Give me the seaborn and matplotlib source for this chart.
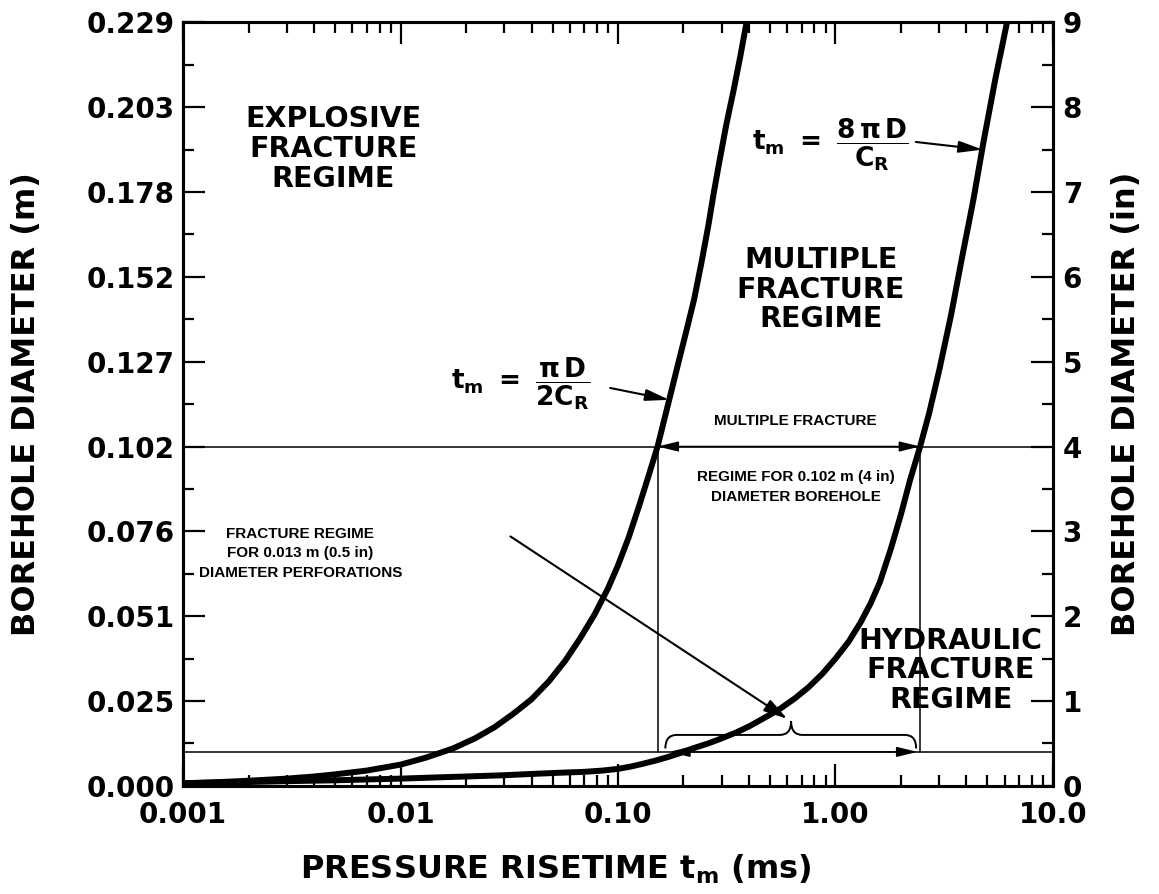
import numpy as np
import pandas as pd
import matplotlib
matplotlib.use("Agg")
import matplotlib.pyplot as plt
import seaborn as sns
from matplotlib.path import Path
from matplotlib.patches import PathPatch
from matplotlib.ticker import FixedLocator, NullFormatter, LogLocator

# ---------------- data ----------------
# curve t_m = pi D / (2 C_R)   (t in ms, D in inches)
t_curve1 = [0.001, 0.0015, 0.002, 0.003, 0.004, 0.005, 0.007, 0.01, 0.013, 0.0174,
            0.022, 0.027, 0.033, 0.04, 0.048, 0.057, 0.067, 0.078, 0.09, 0.1,
            0.112, 0.125, 0.138, 0.152, 0.17, 0.19, 0.207, 0.224, 0.242, 0.26,
            0.276, 0.292, 0.315, 0.34, 0.365, 0.39]
d_curve1 = [0.03, 0.045, 0.06, 0.085, 0.11, 0.135, 0.18, 0.25, 0.33, 0.44,
            0.56, 0.69, 0.85, 1.02, 1.23, 1.47, 1.74, 2.02, 2.33, 2.6,
            2.93, 3.3, 3.65, 4.0, 4.5, 5.0, 5.38, 5.74, 6.17, 6.6,
            7.0, 7.35, 7.8, 8.2, 8.6, 9.0]
# curve t_m = 8 pi D / C_R
t_curve2 = [0.001, 0.002, 0.003, 0.005, 0.007, 0.01, 0.015, 0.02, 0.03, 0.04,
            0.055, 0.07, 0.085, 0.1, 0.115, 0.13, 0.15, 0.17, 0.195, 0.22,
            0.26, 0.3, 0.35, 0.4, 0.47, 0.55, 0.65, 0.75, 0.87, 1.0,
            1.15, 1.3, 1.45, 1.6, 1.8, 2.0, 2.2, 2.45, 2.7, 3.0,
            3.4, 3.8, 4.3, 4.8, 5.45, 6.15]
d_curve2 = [0.03, 0.045, 0.055, 0.065, 0.075, 0.085, 0.1, 0.11, 0.125, 0.14,
            0.155, 0.165, 0.18, 0.2, 0.228, 0.26, 0.3, 0.34, 0.39, 0.44,
            0.5, 0.56, 0.63, 0.7, 0.8, 0.9, 1.03, 1.16, 1.32, 1.5,
            1.7, 1.92, 2.15, 2.4, 2.8, 3.2, 3.6, 4.0, 4.4, 4.9,
            5.55, 6.2, 6.9, 7.6, 8.35, 9.0]

x_ticks = [0.001, 0.01, 0.1, 1.0, 10.0]
x_tick_labels = ["0.001", "0.01", "0.10", "1.00", "10.0"]
y_ticks_in = list(range(10))
y_tick_labels_m = ["0.000", "0.025", "0.051", "0.076", "0.102",
                   "0.127", "0.152", "0.178", "0.203", "0.229"]
y_tick_labels_in = [str(v) for v in y_ticks_in]

borehole_d = 4.0          # 0.102 m (4 in)
perf_d = 0.40             # 0.013 m (0.5 in) line as drawn
t_bore_lo, t_bore_hi = 0.152, 2.45
t_perf_lo, t_perf_hi = 0.172, 2.38
brace_lo, brace_hi, brace_mid = 0.165, 2.35, 0.625
brace_end_d, brace_h_d, brace_tip_d = 0.44, 0.60, 0.76

xmin, xmax, ymin, ymax = 0.001, 10.0, 0.0, 9.0

# ---------------- style ----------------
sns.set_style("ticks")
plt.rcParams['font.family'] = ['DejaVu Sans']
plt.rcParams['font.weight'] = 'bold'
plt.rcParams['axes.labelweight'] = 'bold'
for k in ('text.color', 'axes.labelcolor', 'xtick.color', 'ytick.color', 'axes.edgecolor'):
    plt.rcParams[k] = 'black'
plt.rcParams['mathtext.fontset'] = 'custom'
plt.rcParams['mathtext.rm'] = 'DejaVu Sans:bold'
plt.rcParams['mathtext.bf'] = 'DejaVu Sans:bold'
plt.rcParams['mathtext.it'] = 'DejaVu Sans:bold:italic'

fig = plt.figure(figsize=(11.59, 8.94), dpi=100)
ax = fig.add_axes([0.158, 0.121, 0.7505, 0.854])

df = pd.concat([
    pd.DataFrame({"t": t_curve1, "d": d_curve1, "curve": "pi D / 2 C_R"}),
    pd.DataFrame({"t": t_curve2, "d": d_curve2, "curve": "8 pi D / C_R"}),
])
sns.lineplot(data=df, x="t", y="d", units="curve", estimator=None, sort=False,
             color="black", lw=4.3, ax=ax, legend=False,
             solid_joinstyle="round", solid_capstyle="round")

ax.set_xscale("log")
ax.set_xlim(xmin, xmax)
ax.set_ylim(ymin, ymax)

# thin reference lines
ax.axhline(borehole_d, color="black", lw=1.1)
ax.axhline(perf_d, color="black", lw=1.1)
ax.plot([t_bore_lo, t_bore_lo], [perf_d, borehole_d], color="black", lw=1.1)
ax.plot([t_bore_hi, t_bore_hi], [perf_d, borehole_d], color="black", lw=1.1)

# double arrows
dbl = dict(arrowstyle="<|-|>,head_length=0.9,head_width=0.22", color="black",
           lw=1.1, shrinkA=0, shrinkB=0, mutation_scale=14)
ax.annotate("", xy=(t_bore_lo, borehole_d), xytext=(t_bore_hi, borehole_d), arrowprops=dbl)
ax.annotate("", xy=(t_perf_lo, perf_d), xytext=(t_perf_hi, perf_d), arrowprops=dbl)

# curly brace (axes-fraction coordinates computed from data values)
def to_ax(t, d):
    fx = (np.log10(t) - np.log10(xmin)) / (np.log10(xmax) - np.log10(xmin))
    fy = (d - ymin) / (ymax - ymin)
    return fx, fy

xl, ye = to_ax(brace_lo, brace_end_d)
xr, _ = to_ax(brace_hi, brace_end_d)
xm, yt = to_ax(brace_mid, brace_tip_d)
_, yh = to_ax(brace_mid, brace_h_d)
dx = 0.013
verts = [(xl, ye), (xl, yh), (xl + dx, yh),
         (xm - dx, yh), (xm, yh), (xm, yt),
         (xm, yh), (xm + dx, yh),
         (xr - dx, yh), (xr, yh), (xr, ye)]
codes = [Path.MOVETO, Path.CURVE3, Path.CURVE3,
         Path.LINETO, Path.CURVE3, Path.CURVE3,
         Path.CURVE3, Path.CURVE3,
         Path.LINETO, Path.CURVE3, Path.CURVE3]
ax.add_patch(PathPatch(Path(verts, codes), transform=ax.transAxes,
                       facecolor="none", edgecolor="black", lw=1.4))

# arrow from perforation text to brace
ax.annotate("", xy=(0.6, brace_tip_d + 0.03), xytext=(0.032, 2.94),
            arrowprops=dict(arrowstyle="-|>,head_length=0.9,head_width=0.25",
                            color="black", lw=1.5, shrinkA=0, shrinkB=0,
                            mutation_scale=16))

# formula labels + arrows
ax.text(0.0356, 4.74, r"$\mathrm{t_m\ =\ \dfrac{\pi\, D}{2C_R}}$", fontsize=19,
        ha="center", va="center")
ax.annotate("", xy=(0.172, 4.55), xytext=(0.092, 4.69),
            arrowprops=dict(arrowstyle="-|>,head_length=0.9,head_width=0.22",
                            color="black", lw=1.5, shrinkA=0, shrinkB=0,
                            mutation_scale=16))
ax.text(0.95, 7.56, r"$\mathrm{t_m\ =\ \dfrac{8\,\pi\, D}{C_R}}$", fontsize=19,
        ha="center", va="center")
ax.annotate("", xy=(4.75, 7.5), xytext=(2.34, 7.59),
            arrowprops=dict(arrowstyle="-|>,head_length=0.9,head_width=0.22",
                            color="black", lw=1.5, shrinkA=0, shrinkB=0,
                            mutation_scale=16))

# region labels
region_kw = dict(fontsize=20.5, ha="center", va="center", linespacing=1.08)
ax.text(0.0049, 7.51, "EXPLOSIVE\nFRACTURE\nREGIME", **region_kw)
ax.text(0.855, 5.85, "MULTIPLE\nFRACTURE\nREGIME", **region_kw)
ax.text(3.39, 1.36, "HYDRAULIC\nFRACTURE\nREGIME", **region_kw)
small_kw = dict(fontsize=11, ha="center", va="center", family="Liberation Sans",
                linespacing=1.5)
ax.text(0.656, 4.30, "MULTIPLE FRACTURE", **small_kw)
ax.text(0.656, 3.52, "REGIME FOR 0.102 m (4 in)\nDIAMETER BOREHOLE", **small_kw)
ax.text(0.00346, 2.74, "FRACTURE REGIME\nFOR 0.013 m (0.5 in)\nDIAMETER PERFORATIONS",
        **small_kw)

# ---------------- axes / ticks ----------------
ax.xaxis.set_major_locator(FixedLocator(x_ticks))
ax.set_xticklabels(x_tick_labels)
ax.xaxis.set_minor_locator(LogLocator(base=10, subs=np.arange(2, 10)))
ax.xaxis.set_minor_formatter(NullFormatter())
ax.yaxis.set_major_locator(FixedLocator(y_ticks_in))
ax.set_yticklabels(y_tick_labels_m)
ax.yaxis.set_minor_locator(FixedLocator([v + 0.5 for v in y_ticks_in[:-1]]))

ax.tick_params(which="both", direction="in", top=True, right=False, width=1.6,
               labelsize=20, pad=6)
ax.tick_params(axis="x", which="major", length=16, pad=11)
ax.tick_params(axis="x", which="minor", length=8)
ax.tick_params(axis="y", which="major", length=16)
ax.tick_params(axis="y", which="minor", length=8)

ax2 = ax.twinx()
ax2.set_ylim(ymin, ymax)
ax2.yaxis.set_major_locator(FixedLocator(y_ticks_in))
ax2.set_yticklabels(y_tick_labels_in)
ax2.yaxis.set_minor_locator(FixedLocator([v + 0.5 for v in y_ticks_in[:-1]]))
ax2.tick_params(which="both", direction="in", width=1.6, labelsize=20, pad=7,
                colors="black")
ax2.tick_params(which="major", length=16)
ax2.tick_params(which="minor", length=8)

for a in (ax, ax2):
    for s in a.spines.values():
        s.set_linewidth(2.2)
        s.set_visible(True)
        s.set_color("black")

ax.set_xlabel(r"PRESSURE RISETIME $\mathrm{t_m}$ (ms)", fontsize=23, fontweight="bold")
ax.xaxis.set_label_coords(0.428, -0.088)
ax.set_ylabel("BOREHOLE DIAMETER (m)", fontsize=23, fontweight="bold", va="center")
ax.yaxis.set_label_coords(-0.18, 0.5)
ax2.set_ylabel("BOREHOLE DIAMETER (in)", fontsize=23, fontweight="bold",
               va="center", rotation=90)
ax2.yaxis.set_label_coords(1.085, 0.5)

fig.savefig("out.png", dpi=100)
